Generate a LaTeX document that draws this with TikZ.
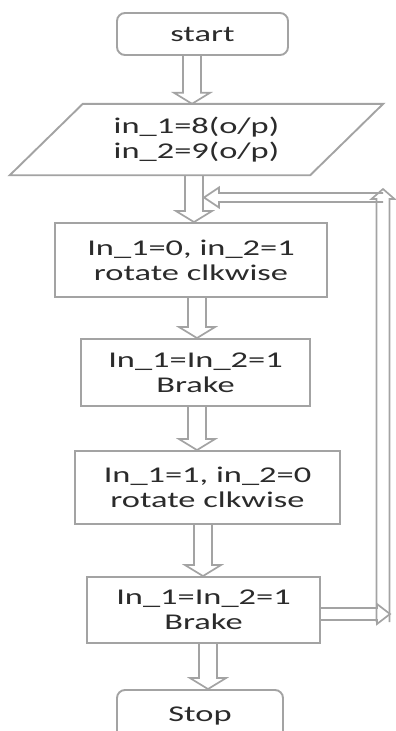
\documentclass[tikz,border=0pt]{standalone}
\usepackage{fontspec}
\setmainfont[FakeStretch=1.53]{Carlito}
\usetikzlibrary{calc}
\definecolor{edgegray}{HTML}{A3A3A3}
\definecolor{txtgray}{HTML}{2B2B2B}
% hollow block arrow: #1 shaft half width, #2 head half width, #3 head length, #4 from, #5 to
\newcommand{\hollowarrow}[5]{%
  \path (#4) coordinate (ha-s) (#5) coordinate (ha-t);
  \path ($(ha-t)!#3!(ha-s)$) coordinate (ha-h);
  \draw[hollow] ($(ha-s)!#1!90:(ha-t)$) -- ($(ha-h)!#1!90:(ha-t)$) -- ($(ha-h)!#2!90:(ha-t)$)
     -- (ha-t) -- ($(ha-h)!#2!-90:(ha-t)$) -- ($(ha-h)!#1!-90:(ha-t)$) -- ($(ha-s)!#1!-90:(ha-t)$);
}
\begin{document}
\begin{tikzpicture}[x=1pt,y=-1pt,
  box/.style={draw=edgegray,line width=1.9pt,fill=white,align=center,text=txtgray,inner sep=0pt,
              font=\fontsize{22.5}{25}\selectfont},
  roundbox/.style={box,rounded corners=8pt},
  plain/.style={align=center,text=txtgray,inner sep=0pt,font=\fontsize{22.5}{25}\selectfont},
  hollow/.style={draw=edgegray,line width=1.7pt,line join=miter}]
\useasboundingbox (0,0) rectangle (396,731);

% nodes
\node[roundbox,minimum width=171pt,minimum height=42pt] (start) at (202.5,34) {start};
\node[plain,minimum width=300pt,minimum height=71pt] (para) at (196.5,139.5) {in\_1=8(o/p)\\in\_2=9(o/p)};
\draw[hollow,line width=1.9pt] ($(para.north west)+(36.5,0)$) -- ($(para.north east)+(36.5,0)$)
   -- ($(para.south east)+(-36.5,0)$) -- ($(para.south west)+(-36.5,0)$) -- cycle;
\node[box,minimum width=272pt,minimum height=74pt] (b1) at (191,260) {In\_1=0, in\_2=1\\rotate clkwise};
\node[box,minimum width=229pt,minimum height=67pt] (b2) at (195.5,372.5) {In\_1=In\_2=1\\Brake};
\node[box,minimum width=265pt,minimum height=73pt] (b3) at (207.5,487.5) {In\_1=1, in\_2=0\\rotate clkwise};
\node[box,minimum width=233pt,minimum height=66pt] (b4) at (203.5,610) {In\_1=In\_2=1\\Brake};
\node[roundbox,minimum width=166pt,minimum height=52pt] (stop) at (200,716) {\raisebox{3pt}{Stop}};

% x positions of the down arrows
\coordinate (x1) at (192,0);
\coordinate (x2) at (194,0);
\coordinate (x3) at (197,0);
\coordinate (x4) at (197,0);
\coordinate (x5) at (203,0);
\coordinate (x6) at (208,0);

\hollowarrow{9pt}{18pt}{11pt}{start.south -| x1}{para.north -| x1}
\hollowarrow{9pt}{18pt}{11pt}{para.south -| x2}{b1.north -| x2}
\hollowarrow{9pt}{18pt}{11pt}{b1.south -| x3}{b2.north -| x3}
\hollowarrow{9pt}{18pt}{11pt}{b2.south -| x4}{b3.north -| x4}
\hollowarrow{9pt}{18pt}{11pt}{b3.south -| x5}{b4.north -| x5}
\hollowarrow{9pt}{18pt}{11pt}{b4.south -| x6}{stop.north -| x6}

% feedback loop
\coordinate (fbR) at (390,614);
\coordinate (fbB) at (383,622);
\coordinate (fbT) at (383,189);
\coordinate (fbC) at (383,197.5);
\coordinate (fbL) at (204,197.5);
\hollowarrow{6.5pt}{11.5pt}{10pt}{fbB}{fbT}
\hollowarrow{6pt}{10pt}{13pt}{b4.east |- fbR}{fbR}
\hollowarrow{4.5pt}{10pt}{15pt}{fbC}{fbL}
\end{tikzpicture}
\end{document}
